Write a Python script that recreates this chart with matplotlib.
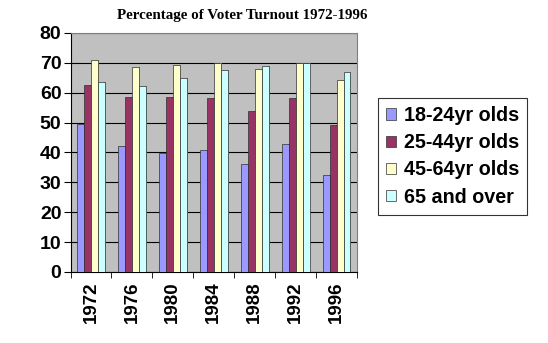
import numpy as np
import matplotlib.pyplot as plt

years = ["1972", "1976", "1980", "1984", "1988", "1992", "1996"]
age_18_24 = [49.6, 42.2, 39.9, 40.8, 36.2, 42.8, 32.4]
age_25_44 = [62.7, 58.7, 58.7, 58.4, 54.0, 58.3, 49.2]
age_45_64 = [70.8, 68.7, 69.3, 69.8, 67.9, 70.0, 64.4]
age_65_up = [63.5, 62.2, 65.1, 67.7, 68.8, 70.1, 67.0]
labels = ["18-24yr olds", "25-44yr olds", "45-64yr olds", "65 and over"]
colors = ["#9999FF", "#993366", "#FFFFCC", "#CCFFFF"]
side_colors = ["#5C5C99", "#5C1F3D", "#99997A", "#7A9999"]

plt.rcParams['font.family'] = ['Liberation Sans', 'DejaVu Sans']

fig = plt.figure(figsize=(5.48, 3.43), dpi=100)
ax = fig.add_axes([0.1287, 0.207, 0.5228, 0.6968])
ax.set_facecolor("#C0C0C0")

x = np.arange(len(years))
w = 0.17
series = [age_18_24, age_25_44, age_45_64, age_65_up]
for i, (vals, c, sc, lab) in enumerate(zip(series, colors, side_colors, labels)):
    pos = x - 1.5 * w + i * w
    # darker side strip to hint at the 3d look
    ax.bar(pos + w / 2, vals, width=0.045, color=sc, linewidth=0, zorder=3)
    ax.bar(pos, vals, width=w, color=c, edgecolor="#303030", linewidth=0.5,
           label=lab, zorder=4)

ax.set_xlim(-0.5, len(years) - 0.5)
ax.set_ylim(0, 80)
ax.set_yticks(range(0, 81, 10))
ax.set_yticklabels([str(v) for v in range(0, 81, 10)], fontsize=14, fontweight="bold")
ax.yaxis.grid(True, color="black", linewidth=0.8, zorder=1)

ax.set_xticks(x)
ax.set_xticklabels(years, rotation=90, fontsize=13.5, fontweight="bold")
ax.tick_params(axis="x", length=0, pad=7)
ax.set_xticks(np.arange(-0.5, len(years)), minor=True)
ax.tick_params(axis="x", which="minor", length=4, direction="out")
ax.tick_params(axis="y", length=5, direction="out", pad=1.5)

for s in ["top", "right"]:
    ax.spines[s].set_color("#808080")
ax.spines["left"].set_color("black")
ax.spines["bottom"].set_color("black")

fig.text(0.4416, 0.955, "Percentage of Voter Turnout 1972-1996",
         family=["Liberation Serif", "DejaVu Serif"], fontweight="bold",
         fontsize=10.8, ha="center", va="center")

leg = fig.legend(loc="upper left", bbox_to_anchor=(0.6898, 0.7143),
                 prop={"weight": "bold", "size": 14.2}, frameon=True, fancybox=False,
                 edgecolor="black", handlelength=0.5, handleheight=0.5,
                 handletextpad=0.4, labelspacing=0.42, borderpad=0.4,
                 borderaxespad=0)
leg.get_frame().set_linewidth(0.8)

fig.savefig("out.png", dpi=100)
